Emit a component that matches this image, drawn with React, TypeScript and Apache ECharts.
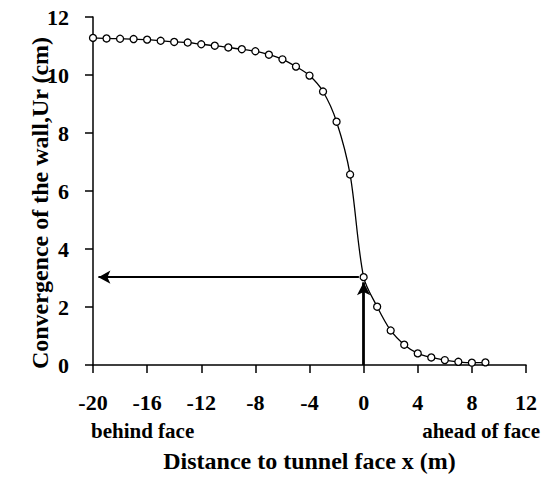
import React, { useEffect, useRef } from "react";
import * as echarts from "echarts";

const xValues = [-20, -19, -18, -17, -16, -15, -14, -13, -12, -11, -10, -9, -8, -7, -6, -5, -4, -3, -2, -1, 0, 1, 2, 3, 4, 5, 6, 7, 8, 9];
const convergence = [11.28, 11.26, 11.25, 11.24, 11.22, 11.18, 11.14, 11.12, 11.06, 11.01, 10.95, 10.89, 10.82, 10.7, 10.54, 10.29, 9.98, 9.43, 8.39, 6.57, 3.03, 2.01, 1.19, 0.7, 0.4, 0.26, 0.17, 0.11, 0.08, 0.09];
const xTickLabels = ["-20", "-16", "-12", "-8", "-4", "0", "4", "8", "12"];
const yTickLabels = ["0", "2", "4", "6", "8", "10", "12"];
const faceValue = 3.03;

const FONT = "'Liberation Serif', 'Times New Roman', serif";

export default function App() {
  const ref = useRef<HTMLDivElement>(null);
  useEffect(() => {
    if (!ref.current) return;
    const chart = echarts.init(ref.current, null, { renderer: "svg" });
    const data = xValues.map((x, i) => [x, convergence[i]]);
    chart.setOption({
      animation: false,
      backgroundColor: "#ffffff",
      grid: { left: 93, right: 24, top: 17, bottom: 114, containLabel: false },
      xAxis: {
        type: "value",
        min: -20,
        max: 12,
        interval: 4,
        name: "Distance to tunnel face x (m)",
        nameLocation: "middle",
        nameGap: 84,
        nameTextStyle: { fontFamily: FONT, fontWeight: "bold", fontSize: 24, color: "#000" },
        axisLine: { show: true, onZero: false, lineStyle: { color: "#000", width: 1.5 } },
        axisTick: { show: true, inside: false, length: 8, lineStyle: { color: "#000", width: 1.5 } },
        axisLabel: {
          margin: 26,
          fontFamily: FONT,
          fontWeight: "bold",
          fontSize: 22,
          color: "#000",
          formatter: (v: number) => (xTickLabels.includes(String(v)) ? String(v) : ""),
        },
        splitLine: { show: false },
      },
      yAxis: {
        type: "value",
        min: 0,
        max: 12,
        interval: 2,
        axisLine: { show: true, onZero: false, lineStyle: { color: "#000", width: 1.5 } },
        axisTick: { show: true, inside: false, length: 8, lineStyle: { color: "#000", width: 1.5 } },
        axisLabel: {
          margin: 24,
          fontFamily: FONT,
          fontWeight: "bold",
          fontSize: 22,
          color: "#000",
          formatter: (v: number) => (yTickLabels.includes(String(v)) ? String(v) : ""),
        },
        splitLine: { show: false },
      },
      graphic: [
        {
          type: "text",
          x: 40,
          y: 203,
          rotation: Math.PI / 2,
          style: {
            text: "Convergence of the wall,Ur (cm)",
            font: `bold 24px ${FONT}`,
            fill: "#000",
            align: "center",
            verticalAlign: "middle",
          },
        },
        {
          type: "text",
          x: 91,
          y: 431,
          style: {
            text: "behind face",
            font: `bold 21px ${FONT}`,
            fill: "#000",
            align: "left",
            verticalAlign: "middle",
          },
        },
        {
          type: "text",
          x: 540,
          y: 431,
          style: {
            text: "ahead of face",
            font: `bold 21px ${FONT}`,
            fill: "#000",
            align: "right",
            verticalAlign: "middle",
          },
        },
      ],
      series: [
        {
          type: "line",
          data,
          smooth: 0.3,
          symbol: "circle",
          symbolSize: 7,
          showSymbol: true,
          lineStyle: { color: "#000", width: 1.3 },
          itemStyle: { color: "#fff", borderColor: "#000", borderWidth: 1.3 },
          z: 3,
          markLine: {
            silent: true,
            animation: false,
            label: { show: false },
            emphasis: { disabled: true },
            data: [
              [
                { coord: [-0.35, faceValue], symbol: "none", lineStyle: { color: "#000", width: 2, type: "solid" } },
                { coord: [-19.6, faceValue], symbol: "arrow", symbolSize: [10, 12] },
              ],
              [
                { coord: [0, 0], symbol: "none", lineStyle: { color: "#000", width: 2.8, type: "solid" } },
                { coord: [0, 2.85], symbol: "arrow", symbolSize: [10, 13] },
              ],
            ],
          },
        },
      ],
    });
    return () => chart.dispose();
  }, []);
  return <div ref={ref} style={{ width: 550, height: 479, position: "absolute", left: 0, top: 0, background: "#fff" }} />;
}
